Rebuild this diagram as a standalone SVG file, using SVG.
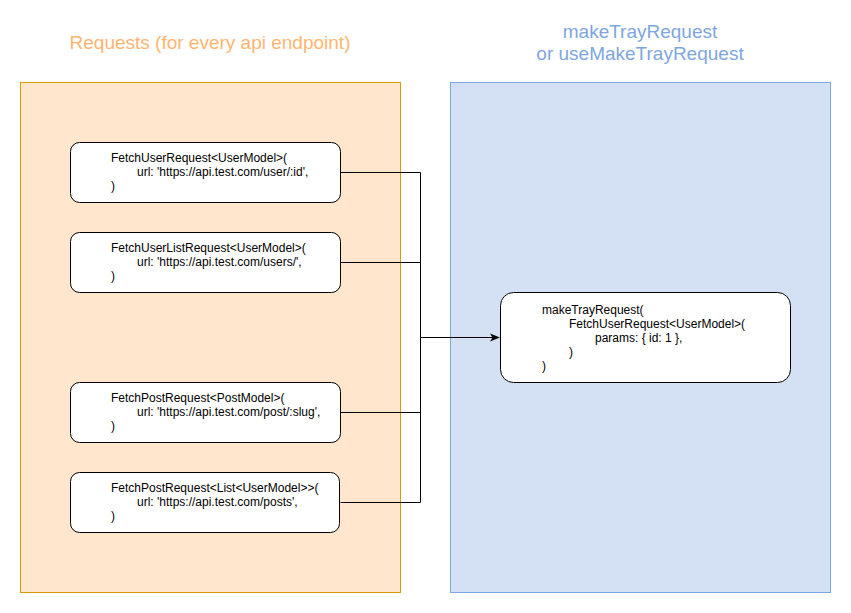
<svg xmlns="http://www.w3.org/2000/svg" width="851" height="613" viewBox="0 0 851 613">
<defs>
<style>
.node rect{fill:#fff;stroke:#000;stroke-width:1}
.t{font-family:"Liberation Sans",Arial,sans-serif;font-size:12px;fill:#000}
.title{font-family:"Liberation Sans",Arial,sans-serif;font-size:19px;text-anchor:middle}
.conn{fill:none;stroke:#000;stroke-width:1}
</style>
<marker id="arr" viewBox="0 0 10 10" refX="9" refY="5" markerWidth="10" markerHeight="10" markerUnits="userSpaceOnUse" orient="auto"><path d="M0,1 L10,5 L0,9 L2.5,5 Z" fill="#000"/></marker>
</defs>
<rect width="851" height="613" fill="#fff"/>
<g id="requests-container">
<rect x="20.5" y="82.5" width="380" height="510" fill="#ffe6cc" stroke="#d79b00"/>
<text class="title" x="210" y="49" fill="#FFB570">Requests (for every api endpoint)</text>
</g>
<g id="tray-container">
<rect x="450.5" y="82.5" width="380" height="510" fill="#d4e1f5" stroke="#7ea6e0"/>
<text class="title" x="640" y="38" fill="#7EA6E0">makeTrayRequest</text>
<text class="title" x="640" y="60" fill="#7EA6E0">or useMakeTrayRequest</text>
</g>
<g id="connectors">
<polyline class="conn" points="340.5,172.5 420.5,172.5 420.5,337.5 499,337.5" marker-end="url(#arr)"/>
<polyline class="conn" points="340.5,262.5 420.5,262.5 420.5,337.5"/>
<polyline class="conn" points="340.5,412.5 420.5,412.5 420.5,337.5"/>
<polyline class="conn" points="340.5,502.5 420.5,502.5 420.5,337.5"/>
</g>
<g id="fetch-user" class="node">
<rect x="70.5" y="142.5" width="270" height="60" rx="9"/>
<text class="t" x="111" y="162">FetchUserRequest&lt;UserModel&gt;(</text>
<text class="t" x="137" y="176">url: 'https://api.test.com/user/:id',</text>
<text class="t" x="111" y="190">)</text>
</g>
<g id="fetch-user-list" class="node">
<rect x="70.5" y="232.5" width="270" height="60" rx="9"/>
<text class="t" x="111" y="252">FetchUserListRequest&lt;UserModel&gt;(</text>
<text class="t" x="137" y="266">url: 'https://api.test.com/users/',</text>
<text class="t" x="111" y="280">)</text>
</g>
<g id="fetch-post" class="node">
<rect x="70.5" y="382.5" width="270" height="60" rx="9"/>
<text class="t" x="111" y="402">FetchPostRequest&lt;PostModel&gt;(</text>
<text class="t" x="137" y="416">url: 'https://api.test.com/post/:slug',</text>
<text class="t" x="111" y="430">)</text>
</g>
<g id="fetch-post-list" class="node">
<rect x="70.5" y="472.5" width="269" height="60" rx="9"/>
<text class="t" x="111" y="492">FetchPostRequest&lt;List&lt;UserModel&gt;&gt;(</text>
<text class="t" x="137" y="506">url: 'https://api.test.com/posts',</text>
<text class="t" x="111" y="520">)</text>
</g>
<g id="make-tray" class="node">
<rect x="500.5" y="292.5" width="290" height="90" rx="13"/>
<text class="t" x="542" y="314">makeTrayRequest(</text>
<text class="t" x="569" y="328">FetchUserRequest&lt;UserModel&gt;(</text>
<text class="t" x="595" y="342">params: { id: 1 },</text>
<text class="t" x="569" y="356">)</text>
<text class="t" x="542" y="370">)</text>
</g>
</svg>
